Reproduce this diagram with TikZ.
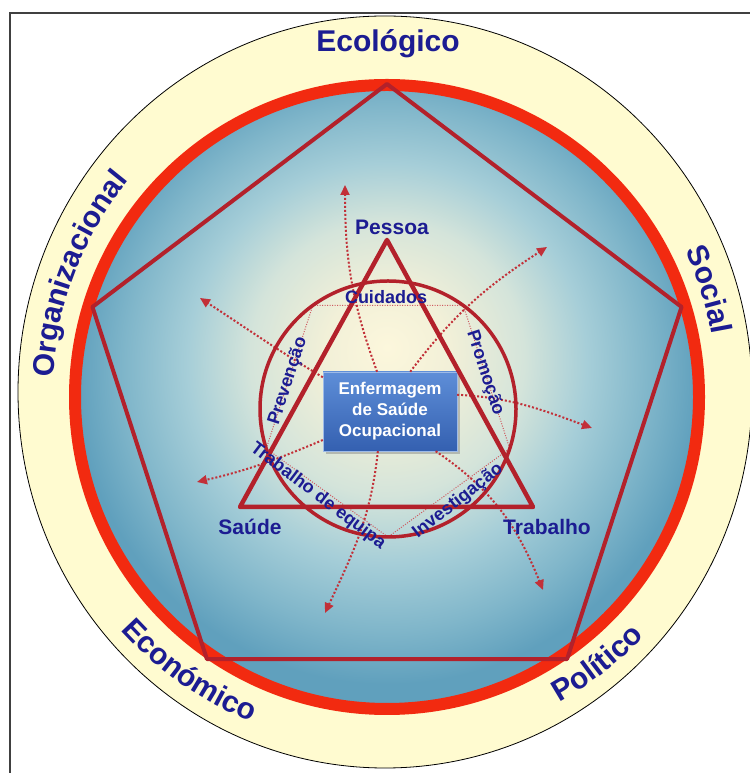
\documentclass[tikz,border=0pt]{standalone}
\usepackage{fontspec}
\setmainfont{Liberation Sans}
\usetikzlibrary{calc}
\usetikzlibrary{arrows.meta}
\usetikzlibrary{decorations.text}
\usetikzlibrary{shadows}

\definecolor{bandcream}{HTML}{FFFBD0}
\definecolor{ringred}{HTML}{F22A10}
\definecolor{linered}{HTML}{B3212B}
\definecolor{dotred}{HTML}{C23038}
\definecolor{navy}{HTML}{1C1C92}
\definecolor{glowcore}{HTML}{FCF7DC}
\definecolor{glowpale}{HTML}{F2F0D8}
\definecolor{glowmid}{HTML}{D4E4DA}
\definecolor{glowsky}{HTML}{A6CED8}
\definecolor{glowblue}{HTML}{80B6CA}
\definecolor{glowedge}{HTML}{60A0BD}
\definecolor{boxtop}{HTML}{5E8ED8}
\definecolor{boxbottom}{HTML}{3460B0}

% the disc edge sits at 25bp
\pgfdeclareradialshading{glow}{\pgfpoint{0bp}{4bp}}{%
  color(0bp)=(glowcore); color(5bp)=(glowpale); color(11bp)=(glowmid);
  color(16bp)=(glowsky); color(21bp)=(glowblue); color(25bp)=(glowedge);
  color(50bp)=(glowedge)}

\begin{document}
\begin{tikzpicture}[
x = 1pt, y = 1pt,
axis label/.style = {font=\fontsize{30}{36}\selectfont\bfseries, text=navy},
pole label/.style = {font=\fontsize{21}{25}\selectfont\bfseries, text=navy},
act label/.style  = {font=\fontsize{18}{21}\selectfont\bfseries, text=navy, inner sep=0pt},
ring text/.style  = {decorate, decoration={text along path, text align=center,
                     text color=navy, text={|\fontsize{30}{36}\selectfont\bfseries|#1}}},
frame/.style      = {black!75, line width=1.6pt},
edge line/.style  = {linered, line width=4pt, line join=round},
chord/.style      = {dotred!80, line width=1pt, dash pattern=on 1pt off 1.5pt},
spoke/.style      = {dotred, line width=2pt, dash pattern=on 2pt off 2pt,
                     -{Triangle[length=10pt,width=9pt]}},
core box/.style   = {draw=boxtop!60!white, top color=boxtop, bottom color=boxbottom,
                     minimum width=134pt, minimum height=79pt, text=white, align=center,
                     font=\fontsize{17}{21}\selectfont\bfseries,
                     drop shadow={opacity=0.45, shadow xshift=3pt, shadow yshift=-3pt}}
]
\useasboundingbox (0,0) rectangle (749,773);

\coordinate (hub)  at (385,381);
\coordinate (disc) at (387,376);
\coordinate (mid)  at (388,364);

% frame
\draw[frame] (10,-5) -- (10,760) -- (760,760);

% outer band and the disc
\draw[black, line width=0.8pt, fill=bandcream] (hub) ellipse[x radius=367, y radius=376];
\shade[shading=glow] (disc) circle[radius=312];
\draw[ringred, line width=12pt] (disc) circle[radius=312];

% pentagon
\coordinate (p1) at ($(disc)+(90:313)$);
\coordinate (p2) at ($(disc)+(17:308)$);
\coordinate (p3) at ($(disc)+(-55.5:318)$);
\coordinate (p4) at ($(disc)+(-124.5:318)$);
\coordinate (p5) at ($(disc)+(163:308)$);
\draw[edge line] (p1) -- (p2) -- (p3) -- (p4) -- (p5) -- cycle;

% small dotted pentagon
\draw[chord] ($(mid)+(54:128)$) -- ($(mid)+(126:128)$) -- ($(mid)+(198:128)$)
  -- ($(mid)+(270:128)$) -- ($(mid)+(342:128)$) -- cycle;

\node[core box] (core) at (390,361.5) {Enfermagem\\de Saúde\\Ocupacional};

% spokes
\coordinate (tip1) at (345,588);
\coordinate (tip2) at (547,526);
\coordinate (tip3) at (592,345);
\coordinate (tip4) at (543,183);
\coordinate (tip5) at (325,160);
\coordinate (tip6) at (197,291);
\coordinate (tip7) at (200,475);
\draw[spoke] (core.108) to[out=110,in=-90] (tip1);
\draw[spoke] (core.63) to[out=53,in=213] (tip2);
\draw[spoke] (core.14) to[out=-3,in=160] (tip3);
\draw[spoke] (core.-41) to[out=-34,in=112] (tip4);
\draw[spoke] (core.-107) to[out=-96,in=65] (tip5);
\draw[spoke] (core.203) to[out=203,in=13] (tip6);
\draw[spoke] (core.153) to[out=149,in=-33] (tip7);

% circle and triangle
\draw[linered, line width=3.5pt] (mid) circle[radius=128];
\coordinate (apex) at (387,533);
\coordinate (left) at (240,266);
\coordinate (right) at (533,266);
\draw[edge line, line width=4.5pt] (apex) -- (left) -- (right) -- cycle;

% labels
\node[pole label] (pessoa) at (392,546) {Pessoa};
\node[pole label] (saude) at (250,246) {Saúde};
\node[pole label] (trabalho) at (547,246) {Trabalho};

\node[act label] (cuidados) at (386,476) {Cuidados};
\node[act label, rotate=72] (prevencao) at (288,392) {Prevenção};
\node[act label, rotate=-72] (promocao) at (485,400) {Promoção};
\node[act label, rotate=-37] (equipa) at (318,277) {Trabalho de equipa};
\node[act label, rotate=38] (investigacao) at (458,272) {Investigação};

\node[axis label] (ecologico) at (388,729) {Ecológico};
\path[ring text=Organizacional] ($(hub)+(195:332)$) arc[start angle=195, end angle=123, radius=332];
\path[ring text=Social] ($(hub)+(50:332)$) arc[start angle=50, end angle=-15, radius=332];
\path[ring text=Económico] ($(hub)+(200:356)$) arc[start angle=200, end angle=270, radius=356];
\path[ring text=Político] ($(hub)+(-87:356)$) arc[start angle=-87, end angle=-17, radius=356];
\end{tikzpicture}
\end{document}
